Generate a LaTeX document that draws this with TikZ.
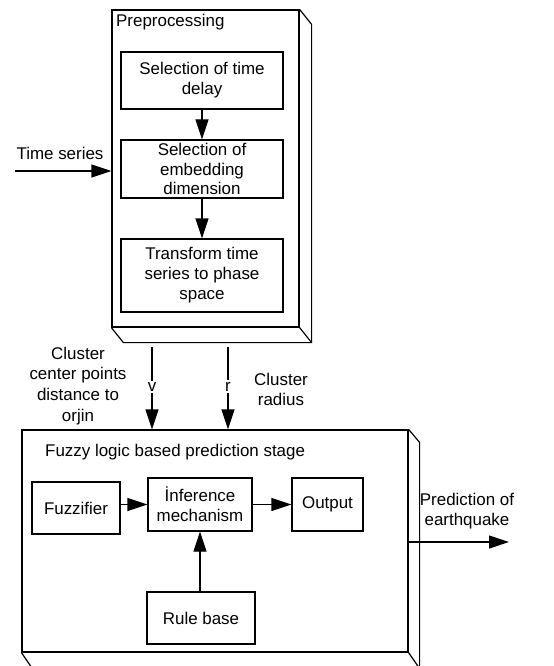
\documentclass[tikz,border=0pt]{standalone}
\usepackage{fontspec}
\setmainfont{Liberation Sans}
\usetikzlibrary{arrows.meta}
\begin{document}
\begin{tikzpicture}[x=1bp,y=-1bp,
  every node/.style={font=\fontsize{17}{20}\selectfont, inner sep=0pt},
  blk/.style={draw, line width=1.2bp, align=center},
  conn/.style={line width=1.2bp, -{Triangle[length=20bp,width=13bp]}},
  edge3d/.style={line width=1.2bp},
  lbl/.style={align=center}]
\useasboundingbox (0,0) rectangle (554,666);

% ---- Preprocessing block (3D box) ----
\node[blk, minimum width=187bp, minimum height=317bp] (prep) at (205.5,168.5) {};
\draw[edge3d] (prep.north east) -- ++(12,15) |- ([xshift=12bp,yshift=-15bp]prep.south west) -- (prep.south west);
\draw[edge3d] (prep.south east) -- ++(12,15);
\node[anchor=west] (preptitle) at (116,22) {Preprocessing};

\node[blk, minimum width=162bp, minimum height=57bp] (delay) at (202,80.5) {Selection of time\\delay};
\node[blk, minimum width=162bp, minimum height=58bp] (embed) at (202,169) {Selection of\\embedding\\dimension};
\node[blk, minimum width=162bp, minimum height=73bp] (phase) at (202,275.5) {Transform time\\series to phase\\space};
\draw[conn] (delay.south) -- (embed.north);
\draw[conn] (embed.south) -- (phase.north);

% input
\coordinate (tsin) at (15,171);
\draw[conn] (tsin) -- (tsin -| prep.west);
\node (tslbl) at (60,153) {Time series};

% ---- Fuzzy logic block (3D box) ----
\node[blk, minimum width=386bp, minimum height=222bp] (fz) at (215,541) {};
\draw[edge3d] (fz.north east) -- ++(11,13) |- ([xshift=11bp,yshift=-16bp]fz.south west) -- (fz.south west);
\draw[edge3d] (fz.south east) -- ++(11,16);
\node[anchor=west] (fztitle) at (45,452) {Fuzzy logic based prediction stage};

\node[blk, minimum width=88bp, minimum height=52bp] (fuzz) at (76,508) {Fuzzifier};
\node[blk, minimum width=104bp, minimum height=53bp] (inf) at (200,504.5) {İnference\\mechanism};
\node[blk, minimum width=71bp, minimum height=53bp] (out) at (327.5,504.5) {Output};
\node[blk, minimum width=108bp, minimum height=52bp] (rule) at (201,618) {Rule base};
\draw[conn] (fuzz.east |- inf.west) -- (inf.west);
\draw[conn] (inf.east) -- (out.west);
\draw[conn] (inf.south |- rule.north) -- (inf.south);

% links between the two blocks
\coordinate (vtop) at (152,347);
\coordinate (rtop) at (228,347);
\draw[conn] (vtop) -- node[fill=white, inner sep=1.5bp, pos=0.48] (vlbl) {v} (vtop |- fz.north);
\draw[conn] (rtop) -- node[fill=white, inner sep=1.5bp, pos=0.48] (rlbl) {r} (rtop |- fz.north);
\node[lbl, font=\fontsize{17}{21}\selectfont] (vtext) at (78,386) {Cluster\\center points\\distance to\\orjin};
\node[lbl] (rtext) at (281,389) {Cluster\\radius};

% output
\coordinate (pred) at (509,542);
\draw[conn] (fz.east |- pred) -- (pred);
\node[lbl] (predlbl) at (467,511) {Prediction of\\earthquake};
\end{tikzpicture}
\end{document}
